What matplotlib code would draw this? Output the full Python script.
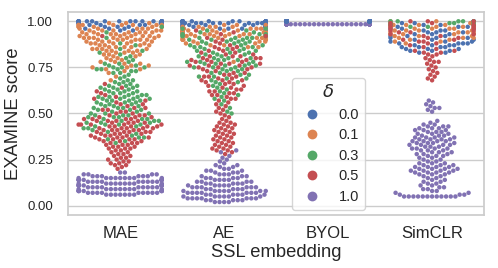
import matplotlib
matplotlib.use("Agg")
import matplotlib.pyplot as plt
import numpy as np
import pandas as pd
import seaborn as sns

# categories / hue levels
embeddings = ["MAE", "AE", "BYOL", "SimCLR"]
deltas = ["0.0", "0.1", "0.3", "0.5", "1.0"]

# score levels (histogram rows, 0.01 apart), top to bottom
score_levels = [1.00, 0.99, 0.98, 0.97, 0.96, 0.95, 0.94, 0.93, 0.92, 0.91,
                0.90, 0.89, 0.88, 0.87, 0.86, 0.85, 0.84, 0.83, 0.82, 0.81,
                0.80, 0.79, 0.78, 0.77, 0.76, 0.75, 0.74, 0.73, 0.72, 0.71,
                0.70, 0.69, 0.68, 0.67, 0.66, 0.65, 0.64, 0.63, 0.62, 0.61,
                0.60, 0.59, 0.58, 0.57, 0.56, 0.55, 0.54, 0.53, 0.52, 0.51,
                0.50, 0.49, 0.48, 0.47, 0.46, 0.45, 0.44, 0.43, 0.42, 0.41,
                0.40, 0.39, 0.38, 0.37, 0.36, 0.35, 0.34, 0.33, 0.32, 0.31,
                0.30, 0.29, 0.28, 0.27, 0.26, 0.25, 0.24, 0.23, 0.22, 0.21,
                0.20, 0.19, 0.18, 0.17, 0.16, 0.15, 0.14, 0.13, 0.12, 0.11,
                0.10, 0.09, 0.08, 0.07, 0.06, 0.05, 0.04, 0.03, 0.02, 0.01,
                0.00]

# number of runs per score level, starting at 1.00
mae_d00 = [20, 8, 4, 3, 3, 2]
mae_d01 = [0, 3, 8, 6, 5, 5, 6, 6, 6, 6,
           6, 5, 5, 4, 4, 4, 4, 3, 3, 2,
           2, 2, 2, 2, 2, 2, 2, 1, 1, 0,
           1, 0, 1]
mae_d03 = [0, 0, 0, 1, 0, 0, 1, 0, 0, 1,
           0, 0, 1, 1, 0, 1, 1, 1, 1, 1,
           1, 1, 1, 2, 2, 3, 3, 2, 2, 1,
           1, 1, 2, 2, 2, 3, 3, 3, 3, 3,
           3, 4, 4, 4, 3, 3, 3, 3, 3, 2,
           3, 3, 3, 3, 3, 3, 3, 2, 2, 1,
           1, 1, 1, 2, 1, 1, 1]
mae_d05 = [0, 0, 0, 0, 0, 0, 0, 0, 1, 0,
           0, 0, 0, 0, 0, 0, 0, 0, 0, 0,
           0, 0, 0, 0, 0, 0, 0, 0, 0, 0,
           0, 0, 0, 0, 1, 0, 1, 0, 1, 1,
           1, 1, 1, 1, 1, 2, 1, 2, 2, 2,
           2, 3, 3, 4, 4, 4, 5, 5, 5, 5,
           5, 4, 4, 4, 4, 3, 3, 3, 3, 3,
           2, 2, 2, 2, 2, 2, 2, 2, 2, 1,
           1]
mae_d10 = [0] * 80 + [0, 0, 2, 4, 6, 9, 9, 9, 9, 9,
                      9, 9, 9, 9, 7]

ae_d00 = [18, 12, 9, 7, 5, 4, 3, 2, 1]
ae_d01 = [0, 0, 3, 5, 6, 7, 7, 7, 6, 5,
          5, 3, 3, 2, 2, 0, 0, 0, 0, 0,
          0, 0, 1]
ae_d03 = [0, 0, 0, 0, 2, 2, 2, 3, 3, 4,
          4, 4, 3, 3, 3, 3, 3, 3, 3, 2,
          3, 3, 3, 3, 3, 3, 3, 2, 2, 2,
          2, 2, 1, 2, 1, 1, 1, 1, 1, 1,
          1, 1, 1, 1, 0, 1, 0, 1, 0, 1,
          1]
ae_d05 = [0, 0, 0, 0, 0, 1, 1, 1, 1, 1,
          1, 1, 1, 1, 2, 2, 2, 2, 2, 3,
          3, 3, 3, 3, 3, 3, 2, 2, 2, 2,
          3, 2, 3, 2, 2, 2, 2, 2, 2, 2,
          2, 1, 2, 1, 1, 1, 1, 1, 1, 1,
          1, 1, 1, 1, 1, 2, 2, 2, 2, 2,
          2, 2, 2, 2, 2, 2, 2, 2, 2, 2,
          2, 1, 1]
ae_d10 = [0] * 70 + [1, 1, 0, 1, 1, 1, 1, 1, 2, 2,
                     2, 3, 3, 3, 3, 4, 4, 4, 5, 5,
                     6, 5, 7, 7, 6, 6, 7, 5, 4]

# BYOL collapses onto the top of the scale
byol_d00_vals = [1.00]
byol_d00_counts = [100]
byol_mid_vals = [0.99]
byol_mid_counts = [100]
byol_d10_vals = [0.986, 0.984]
byol_d10_counts = [50, 50]

simclr_d00 = [2, 2, 3, 3, 3, 3, 3, 3, 3, 3,
              3, 3, 4, 4, 4, 3, 3, 2]
simclr_d01 = [2, 3, 4, 4, 4, 4, 4, 4, 3, 3,
              2, 2, 1]
simclr_d03 = [5, 4, 3, 2]
simclr_d05 = [3, 2, 2, 2, 2, 2, 2, 2, 2, 2,
              2, 2, 2, 1, 1, 1, 2, 2, 2, 1,
              1, 1, 2, 1, 1, 1, 1, 1, 1, 1,
              1, 1, 1]
simclr_d10 = [0] * 40 + [0, 0, 0, 1, 1, 1, 1, 2, 1, 1,
                         0, 0, 0, 0, 1, 1, 2, 3, 3, 3,
                         3, 3, 3, 4, 4, 4, 4, 4, 3, 4,
                         3, 3, 3, 3, 2, 2, 2, 3, 3, 4,
                         4, 4, 4, 3, 2, 2, 2, 2, 2, 2,
                         2, 2, 2, 2, 3, 12]


def expand(counts):
    return np.repeat(score_levels[:len(counts)], counts)


groups = [
    ("MAE", "0.0", expand(mae_d00)),
    ("MAE", "0.1", expand(mae_d01)),
    ("MAE", "0.3", expand(mae_d03)),
    ("MAE", "0.5", expand(mae_d05)),
    ("MAE", "1.0", expand(mae_d10)),
    ("AE", "0.0", expand(ae_d00)),
    ("AE", "0.1", expand(ae_d01)),
    ("AE", "0.3", expand(ae_d03)),
    ("AE", "0.5", expand(ae_d05)),
    ("AE", "1.0", expand(ae_d10)),
    # purple row in front, blue piles at the edges
    ("BYOL", "0.1", np.repeat(byol_mid_vals, byol_mid_counts)),
    ("BYOL", "0.3", np.repeat(byol_mid_vals, byol_mid_counts)),
    ("BYOL", "0.5", np.repeat(byol_mid_vals, byol_mid_counts)),
    ("BYOL", "1.0", np.repeat(byol_d10_vals, byol_d10_counts)),
    ("BYOL", "0.0", np.repeat(byol_d00_vals, byol_d00_counts)),
    ("SimCLR", "0.0", expand(simclr_d00)),
    ("SimCLR", "0.1", expand(simclr_d01)),
    ("SimCLR", "0.3", expand(simclr_d03)),
    ("SimCLR", "0.5", expand(simclr_d05)),
    ("SimCLR", "1.0", expand(simclr_d10)),
]

rows = []
for emb, d, vals in groups:
    for v in vals:
        rows.append((emb, d, v))
df = pd.DataFrame(rows, columns=["SSL embedding", "delta", "EXAMINE score"])

sns.set_theme(style="whitegrid", font_scale=1.15)
plt.rcParams["font.family"] = ["Liberation Sans", "DejaVu Sans"]

fig, ax = plt.subplots(figsize=(4.98, 2.68), dpi=100)
fig.subplots_adjust(left=0.137, right=0.972, top=0.955, bottom=0.198)

sns.swarmplot(data=df, x="SSL embedding", y="EXAMINE score", hue="delta",
              order=embeddings, hue_order=deltas, palette="deep", size=3.2, ax=ax)

ax.set_ylim(-0.05, 1.05)
ax.set_yticks([0.0, 0.25, 0.5, 0.75, 1.0])
ax.set_yticklabels(["0.00", "0.25", "0.50", "0.75", "1.00"])
ax.tick_params(axis="y", labelsize=9.5, pad=5)
ax.tick_params(axis="x", labelsize=12, pad=2)
ax.set_xlabel("SSL embedding", fontsize=13.2, labelpad=2)
ax.set_ylabel("EXAMINE score", fontsize=13.2)
sns.move_legend(ax, "lower left", bbox_to_anchor=(0.538, 0.025), borderaxespad=0,
                title=r"$\delta$", frameon=True, markerscale=2.2, fontsize=10.5,
                title_fontsize=13, labelspacing=0.45)

fig.savefig("out.png", dpi=100)
